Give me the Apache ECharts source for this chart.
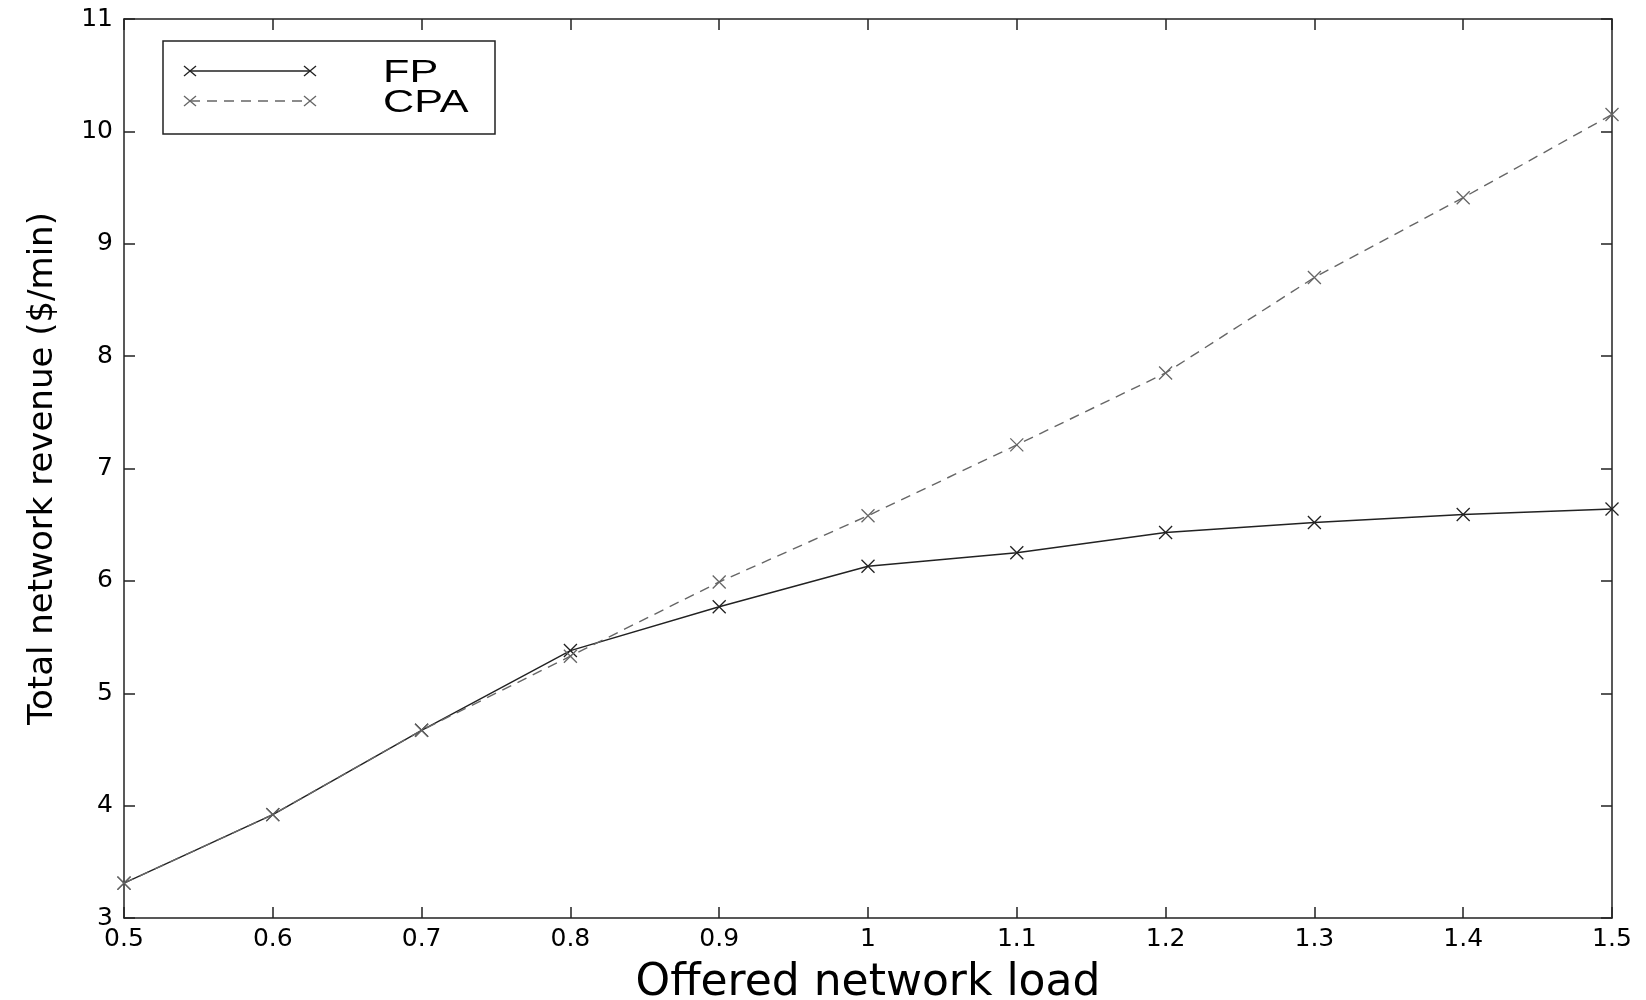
<!DOCTYPE html>
<html>
<head>
<meta charset="utf-8">
<title>Total network revenue</title>
<script src="https://cdn.jsdelivr.net/npm/echarts@6/dist/echarts.min.js"></script>
<style>
    html, body { margin: 0; padding: 0; background: #fff; }
    #chart { width: 1646px; height: 1000px; }
</style>
</head>
<body>
<div id="chart"></div>
<script>
// offered load on x, revenue in $/min on y
var loads = [0.5, 0.6, 0.7, 0.8, 0.9, 1.0, 1.1, 1.2, 1.3, 1.4, 1.5];
var fpRevenue = [3.31, 3.92, 4.67, 5.38, 5.77, 6.13, 6.25, 6.43, 6.52, 6.59, 6.64];
var cpaRevenue = [3.31, 3.92, 4.67, 5.33, 5.99, 6.58, 7.21, 7.85, 8.70, 9.41, 10.15];

var FONT = '"DejaVu Sans", Verdana, sans-serif';
var CROSS = 'path://M0,0L10,10M10,0L0,10';

function pairs(xs, ys) {
    return xs.map(function (x, i) { return [x, ys[i]]; });
}

// little x marker for the legend box, made of two strokes
function cross(cx, cy, color) {
    return [
        { type: 'line', shape: { x1: cx - 6, y1: cy - 5, x2: cx + 6, y2: cy + 5 }, style: { stroke: color, lineWidth: 1.3 } },
        { type: 'line', shape: { x1: cx - 6, y1: cy + 5, x2: cx + 6, y2: cy - 5 }, style: { stroke: color, lineWidth: 1.3 } }
    ];
}

var chart = echarts.init(document.getElementById('chart'));

var axisLine = { show: true, onZero: false, lineStyle: { color: '#222', width: 1.5 } };
var axisTick = { show: true, inside: true, length: 11, lineStyle: { color: '#222', width: 1.5 } };

var legendItems = [
    { type: 'rect', shape: { x: 0, y: 0, width: 332, height: 93 },
      style: { fill: '#fff', stroke: '#222', lineWidth: 1.5 } },
    { type: 'line', shape: { x1: 27, y1: 30, x2: 147, y2: 30 },
      style: { stroke: '#222', lineWidth: 1.4 } },
    { type: 'line', shape: { x1: 27, y1: 60, x2: 147, y2: 60 },
      style: { stroke: '#666', lineWidth: 1.4, lineDash: [10, 7] } },
    { type: 'text', x: 220, y: 32, scaleX: 1.35,
      style: { text: 'FP', fill: '#000', font: '32px "Liberation Sans", Arial, sans-serif', verticalAlign: 'middle' } },
    { type: 'text', x: 220, y: 62, scaleX: 1.35,
      style: { text: 'CPA', fill: '#000', font: '32px "Liberation Sans", Arial, sans-serif', verticalAlign: 'middle' } }
].concat(cross(27, 30, '#222'), cross(147, 30, '#222'), cross(27, 60, '#666'), cross(147, 60, '#666'));

var option = {
    backgroundColor: '#fff',
    animation: false,
    grid: { left: 124, right: 34, top: 19, bottom: 82, outerBoundsMode: 'none' },
    xAxis: [{
        type: 'value', min: 0.5, max: 1.5, interval: 0.1,
        axisLine: axisLine, axisTick: axisTick, splitLine: { show: false },
        axisLabel: {
            color: '#000', fontFamily: FONT, fontSize: 25, margin: 9,
            formatter: function (v) { return String(+v.toFixed(1)); }
        },
        name: 'Offered network load', nameLocation: 'middle', nameGap: 44,
        nameTextStyle: { color: '#000', fontFamily: FONT, fontSize: 44 }
    }, {
        type: 'value', position: 'top', min: 0.5, max: 1.5, interval: 0.1,
        axisLine: axisLine, axisTick: axisTick, splitLine: { show: false },
        axisLabel: { show: false }
    }],
    yAxis: [{
        type: 'value', min: 3, max: 11, interval: 1,
        axisLine: axisLine, axisTick: axisTick, splitLine: { show: false },
        axisLabel: { color: '#000', fontFamily: FONT, fontSize: 25, margin: 11 },
        name: 'Total network revenue ($/min)', nameLocation: 'middle', nameGap: 64,
        nameTextStyle: { color: '#000', fontFamily: FONT, fontSize: 34 }
    }, {
        type: 'value', position: 'right', min: 3, max: 11, interval: 1,
        axisLine: axisLine, axisTick: axisTick, splitLine: { show: false },
        axisLabel: { show: false }
    }],
    series: [{
        name: 'FP', type: 'line',
        data: pairs(loads, fpRevenue),
        symbol: CROSS, symbolSize: 13, showAllSymbol: true,
        lineStyle: { color: '#222', width: 1.4 },
        itemStyle: { color: '#222', borderColor: '#222', borderWidth: 1.3 }
    }, {
        name: 'CPA', type: 'line',
        data: pairs(loads, cpaRevenue),
        symbol: CROSS, symbolSize: 13, showAllSymbol: true,
        lineStyle: { color: '#666', width: 1.4, type: [10, 7] },
        itemStyle: { color: '#666', borderColor: '#666', borderWidth: 1.3 }
    }],
    graphic: [{
        type: 'group', x: 163, y: 41,
        children: legendItems
    }]
};

chart.setOption(option);
</script>
</body>
</html>
